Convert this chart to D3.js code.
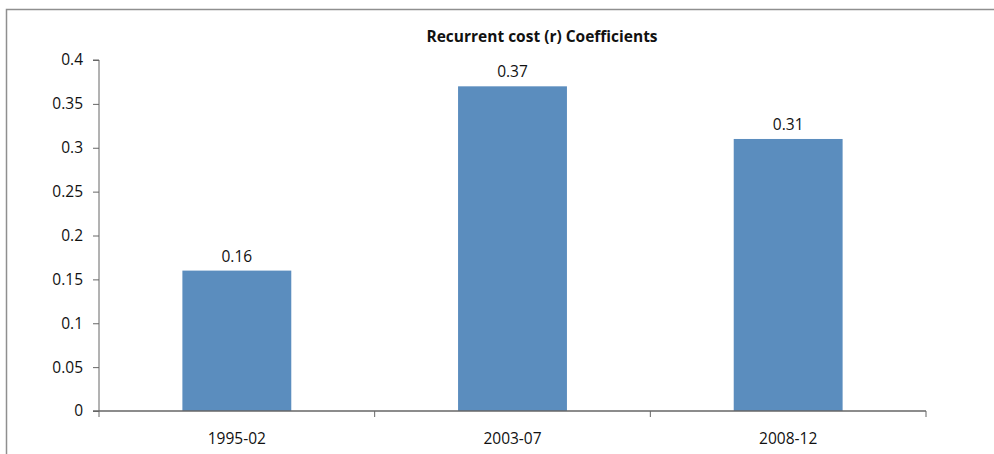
<!DOCTYPE html>
<html>
<head>
<meta charset="utf-8">
<script src="https://cdn.jsdelivr.net/npm/d3@7/dist/d3.min.js"></script>
<style>
  html, body { margin: 0; padding: 0; background: #fff; }
  svg { display: block; font-family: "Open Sans", "Noto Sans", sans-serif; }
</style>
</head>
<body>
<svg id="chart" width="994" height="454"></svg>
<script>
// Chart data
const categories = ["1995-02", "2003-07", "2008-12"];
const values = [0.16, 0.37, 0.31];
const yTicks = [0, 0.05, 0.1, 0.15, 0.2, 0.25, 0.3, 0.35, 0.4];
const yTickLabels = ["0", "0.05", "0.1", "0.15", "0.2", "0.25", "0.3", "0.35", "0.4"];
const title = "Recurrent cost (r) Coefficients";

const svg = d3.select("#chart");
const W = 994, H = 454;
const margin = { left: 99, right: 68, top: 60, bottom: 43 };
const fs = 15.5;

// Outer frame (runs off the right and bottom edges)
svg.append("rect")
  .attr("x", 6.5).attr("y", 9.5)
  .attr("width", W + 20).attr("height", H + 20)
  .attr("fill", "none").attr("stroke", "#8f8f8f").attr("stroke-width", 1.5);

const x = d3.scaleBand()
  .domain(categories)
  .range([margin.left, W - margin.right])
  .paddingInner(0.605).paddingOuter(0.3025);

const y = d3.scaleLinear()
  .domain([0, 0.4])
  .range([H - margin.bottom, margin.top]);

// Bars
svg.append("g").selectAll("rect")
  .data(categories)
  .join("rect")
  .attr("x", d => x(d))
  .attr("width", x.bandwidth())
  .attr("y", (d, i) => y(values[i]))
  .attr("height", (d, i) => y(0) - y(values[i]))
  .attr("fill", "#5b8dbe");

// Value labels
svg.append("g").selectAll("text")
  .data(categories)
  .join("text")
  .attr("x", d => x(d) + x.bandwidth() / 2)
  .attr("y", (d, i) => y(values[i]) - 9)
  .attr("text-anchor", "middle")
  .attr("font-size", fs)
  .attr("fill", "#111")
  .text((d, i) => values[i].toFixed(2));

// Y axis
const yAxis = d3.axisLeft(y)
  .tickValues(yTicks)
  .tickFormat((d, i) => yTickLabels[i])
  .tickSize(6).tickPadding(10);
const gy = svg.append("g")
  .attr("transform", `translate(${margin.left},0)`)
  .call(yAxis);
gy.select(".domain").attr("stroke", "#666").attr("d", `M-6,${y(0.4)}H0V${y(0)}`);
gy.selectAll(".tick line").attr("stroke", "#666");
gy.selectAll(".tick text").attr("font-size", fs).attr("fill", "#111")
  .attr("font-family", "Open Sans, Noto Sans, sans-serif");

// X axis with boundary ticks between categories
const xEdges = d3.scaleLinear().domain([0, categories.length])
  .range([margin.left, W - margin.right]);
const gx = svg.append("g");
gx.append("line")
  .attr("x1", margin.left - 6).attr("x2", W - margin.right)
  .attr("y1", y(0)).attr("y2", y(0))
  .attr("stroke", "#666").attr("stroke-width", 1.5);
gx.selectAll("line.edge")
  .data(d3.range(categories.length + 1))
  .join("line")
  .attr("class", "edge")
  .attr("x1", d => xEdges(d)).attr("x2", d => xEdges(d))
  .attr("y1", y(0)).attr("y2", y(0) + 6)
  .attr("stroke", "#666");
gx.selectAll("text")
  .data(categories)
  .join("text")
  .attr("x", d => x(d) + x.bandwidth() / 2)
  .attr("y", y(0) + 33)
  .attr("text-anchor", "middle")
  .attr("font-size", fs)
  .attr("fill", "#111")
  .text(d => d);

// Title
svg.append("text")
  .attr("x", 542).attr("y", 42)
  .attr("text-anchor", "middle")
  .attr("font-size", fs)
  .attr("font-weight", "bold")
  .attr("fill", "#111")
  .text(title);
</script>
</body>
</html>
